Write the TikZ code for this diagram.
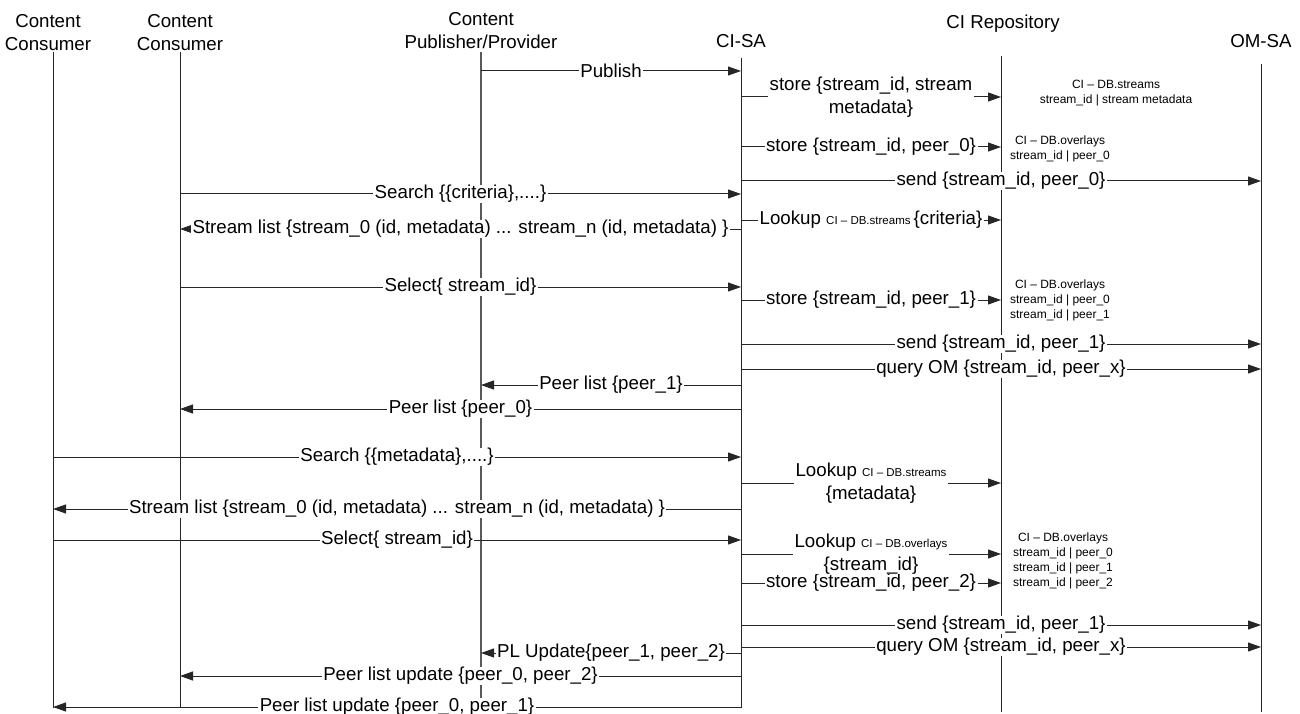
\documentclass[tikz,border=0pt]{standalone}
\usepackage{fontspec}
\setmainfont{Liberation Sans}
\usetikzlibrary{arrows.meta}

\newcommand{\bigtxt}{\fontsize{18.7}{23}\selectfont}
\newcommand{\smalltxt}{\fontsize{12}{15}\selectfont}
\newcommand{\db}[1]{{\fontsize{11.5}{14}\selectfont CI – DB.#1}}
\newcommand{\dbn}[1]{CI – DB.#1}

\begin{document}
\begin{tikzpicture}[x=1pt,y=-1pt,
  head/.style={font=\bigtxt, align=center, inner sep=0pt},
  lifeline/.style={draw=black!85, line width=1pt},
  publine/.style={draw=black!65, line width=1.1pt},
  msg/.style={draw=black!85, line width=1pt, -{Triangle[length=13pt,width=9pt]}},
  lbl/.style={fill=white, font=\bigtxt, align=center, inner xsep=1.5pt, inner ysep=0pt, midway},
  note/.style={font=\smalltxt, align=center, inner sep=0pt}]
\useasboundingbox (0,0) rectangle (1300,714);

% participants
\node[head] (hC1) at (48,33) {Content\\Consumer};
\node[head] (hC2) at (180,33) {Content\\Consumer};
\node[head] (hPub) at (481,31) {Content\\Publisher/Provider};
\node[head] (hCI) at (741,41) {CI-SA};
\node[head] (hRep) at (1003,24) {CI Repository};
\node[head] (hOM) at (1261,41) {OM-SA};

% lifeline ends
\coordinate (C1) at (53,52);   \coordinate (C1b) at (53,708);
\coordinate (C2) at (180,52);  \coordinate (C2b) at (180,708);
\coordinate (PUB) at (481,52); \coordinate (PUBb) at (481,700);
\coordinate (CI) at (741,58);  \coordinate (CIb) at (741,708);
\coordinate (REP) at (1001,56); \coordinate (REPb) at (1001,712);
\coordinate (OM) at (1261,64);  \coordinate (OMb) at (1261,712);

\draw[lifeline] (C1) -- (C1b);
\draw[lifeline] (C2) -- (C2b);
\draw[publine] (PUB) -- (PUBb);
\draw[lifeline] (CI) -- (CIb);
\draw[lifeline] (REP) -- (REPb);
\draw[lifeline] (OM) -- (OMb);

% repository contents
\node[note] (n1) at (1116,93.5) {\dbn{streams}\\stream\_id | stream metadata};
\node[note] (n2) at (1060,148.5) {\dbn{overlays}\\stream\_id | peer\_0};
\node[note] (n3) at (1060,300) {\dbn{overlays}\\stream\_id | peer\_0\\stream\_id | peer\_1};
\node[note] (n4) at (1063,561) {\dbn{overlays}\\stream\_id | peer\_0\\stream\_id | peer\_1\\stream\_id | peer\_2};

% messages
\draw[msg] (PUB |- 0,71) -- (CI |- 0,71) node[lbl] {Publish};
\draw[msg] (CI |- 0,97) -- (REP |- 0,97) node[lbl] {store \{stream\_id, stream\\metadata\}};
\draw[msg] (CI |- 0,147) -- (REP |- 0,147) node[lbl] {store \{stream\_id, peer\_0\}};
\draw[msg] (CI |- 0,181) -- (OM |- 0,181) node[lbl] {send \{stream\_id, peer\_0\}};
\draw[msg] (C2 |- 0,194) -- (CI |- 0,194) node[lbl] {Search \{\{criteria\},....\}};
\draw[msg] (CI |- 0,220) -- (REP |- 0,220) node[lbl] {Lookup \db{streams}\,\{criteria\}};
\draw[msg] (CI |- 0,229) -- (C2 |- 0,229) node[lbl] {Stream list \{stream\_0 (id, metadata) ... stream\_n (id, metadata) \}};
\draw[msg] (C2 |- 0,287) -- (CI |- 0,287) node[lbl] {Select\{ stream\_id\}};
\draw[msg] (CI |- 0,300) -- (REP |- 0,300) node[lbl] {store \{stream\_id, peer\_1\}};
\draw[msg] (CI |- 0,344) -- (OM |- 0,344) node[lbl] {send \{stream\_id, peer\_1\}};
\draw[msg] (CI |- 0,369) -- (OM |- 0,369) node[lbl] {query OM \{stream\_id, peer\_x\}};
\draw[msg] (CI |- 0,385) -- (PUB |- 0,385) node[lbl] {Peer list \{peer\_1\}};
\draw[msg] (CI |- 0,409) -- (C2 |- 0,409) node[lbl] {Peer list \{peer\_0\}};
\draw[msg] (C1 |- 0,457) -- (CI |- 0,457) node[lbl] {Search \{\{metadata\},....\}};
\draw[msg] (CI |- 0,483) -- (REP |- 0,483) node[lbl] {Lookup \db{streams}\\\{metadata\}};
\draw[msg] (CI |- 0,509) -- (C1 |- 0,509) node[lbl] {Stream list \{stream\_0 (id, metadata) ... stream\_n (id, metadata) \}};
\draw[msg] (C1 |- 0,540) -- (CI |- 0,540) node[lbl] {Select\{ stream\_id\}};
\draw[msg] (CI |- 0,583) -- (REP |- 0,583) node[lbl] {store \{stream\_id, peer\_2\}};
\draw[msg] (CI |- 0,554) -- (REP |- 0,554) node[lbl] {Lookup \db{overlays}\\\{stream\_id\}};
\draw[msg] (CI |- 0,625) -- (OM |- 0,625) node[lbl] {send \{stream\_id, peer\_1\}};
\draw[msg] (CI |- 0,647) -- (OM |- 0,647) node[lbl] {query OM \{stream\_id, peer\_x\}};
\draw[msg] (CI |- 0,653) -- (PUB |- 0,653) node[lbl] {PL Update\{peer\_1, peer\_2\}};
\draw[msg] (CI |- 0,676) -- (C2 |- 0,676) node[lbl] {Peer list update \{peer\_0, peer\_2\}};
\draw[msg] (CI |- 0,707) -- (C1 |- 0,707) node[lbl] {Peer list update \{peer\_0, peer\_1\}};
\end{tikzpicture}
\end{document}
